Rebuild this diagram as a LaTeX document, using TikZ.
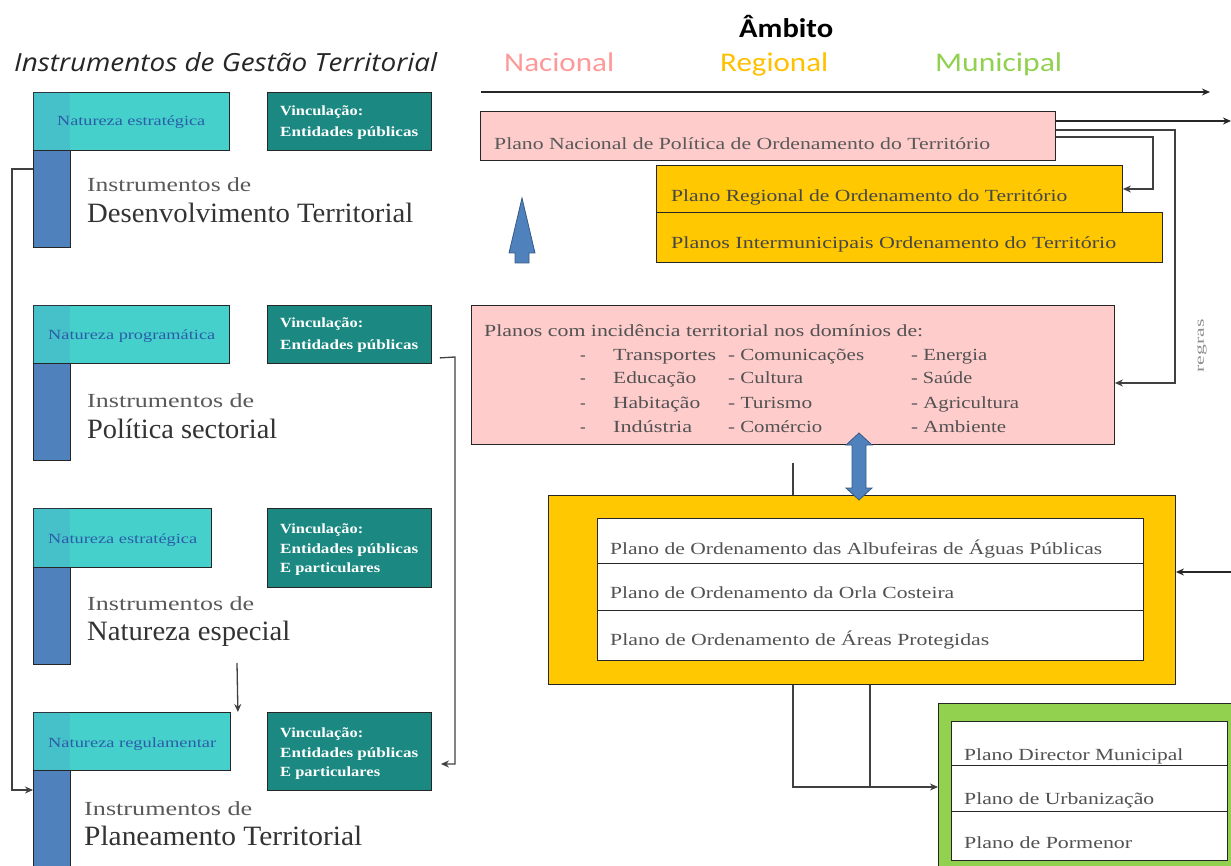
\documentclass[tikz,border=0pt]{standalone}
\usepackage{fontspec}
\usepackage{graphicx}
\setmainfont{Liberation Serif}
\newfontfamily\osans{Open Sans}
\newfontfamily\calib{Carlito}
\usetikzlibrary{arrows.meta,calc}
\definecolor{pinkf}{HTML}{FFCCCC}
\definecolor{goldf}{HTML}{FFC800}
\definecolor{greenf}{HTML}{92D050}
\definecolor{cyanf}{HTML}{46D0CC}
\definecolor{tealf}{HTML}{1B8982}
\definecolor{barf}{HTML}{4F81BD}
\definecolor{cyantxt}{HTML}{2A5CA8}
\definecolor{nacc}{HTML}{FF9999}
\definecolor{regc}{HTML}{FFC000}
\definecolor{munc}{HTML}{92D050}
\newcommand\fitw[2]{\resizebox{#1pt}{\height}{#2}}
\newcommand\fsz[1]{\fontsize{#1}{#1}\selectfont}
\begin{document}
\begin{tikzpicture}[x=1pt,y=-1pt,
 box/.style={draw=black!85, line width=0.9pt, inner sep=0pt, anchor=north west, rectangle},
 barbox/.style={box, fill=barf, minimum width=37pt},
 cyanbox/.style={box, fill=cyanf, minimum height=58pt},
 shade/.style={fill=barf, fill opacity=0.18, draw=none},
 tealbox/.style={box, fill=tealf, minimum width=164pt},
 txt/.style={inner sep=0pt, anchor=base west},
 ctxt/.style={txt, text=cyantxt},
 ttxt/.style={txt, text=white, font=\fsz{14}\bfseries},
 gtxt/.style={txt, text=black!68},
 conn/.style={draw=black!75, line width=1.3pt, -{Stealth[length=8pt,width=7pt]}},
 ln/.style={draw=black!75, line width=1.3pt}]
\useasboundingbox (0,0) rectangle (1231,866);

% header
\node[txt, text=black!85] (hdr) at (14,72) {\osans\itshape\fsz{25}\fitw{423}{Instrumentos de Gestão Territorial}};
\node[txt] (amb) at (739,38) {\calib\bfseries\fsz{27}\fitw{94}{Âmbito}};
\node[txt, text=nacc] (nac) at (504,72) {\calib\fsz{27}\fitw{110}{Nacional}};
\node[txt, text=regc] (reg) at (720,72) {\calib\fsz{27}\fitw{108}{Regional}};
\node[txt, text=munc] (mun) at (935,72) {\calib\fsz{27}\fitw{127}{Municipal}};
\coordinate (ax0) at (481,92);
\coordinate (ax1) at (1210,92);
\draw[conn, draw=black!85] (ax0) -- (ax1);

% group 1
\node[barbox, minimum height=155pt] (b1) at (33,92) {};
\node[cyanbox, minimum width=196pt] (c1) at (33,92) {};
\fill[shade] (33,92) rectangle (70,150);
\node[tealbox, minimum height=58pt] (t1) at (267,92) {};
\node[ctxt] (c1t) at (57,126) {\fsz{14}\fitw{148}{Natureza estratégica}};
\node[ttxt] (t1a) at (280,116) {\fitw{83}{Vinculação:}};
\node[ttxt] (t1b) at (280,137) {\fitw{138}{Entidades públicas}};
\node[txt, text=black!65] (i1a) at (87,192) {\fsz{20}\fitw{164}{Instrumentos de}};
\node[txt, text=black!80] (i1b) at (87,223) {\fsz{28}\fitw{326}{Desenvolvimento Territorial}};

% group 2
\node[barbox, minimum height=155pt] (b2) at (33,305) {};
\node[cyanbox, minimum width=196pt] (c2) at (33,305) {};
\fill[shade] (33,305) rectangle (70,363);
\node[tealbox, minimum height=58pt] (t2) at (267,305) {};
\node[ctxt] (c2t) at (48,340) {\fsz{14}\fitw{167}{Natureza programática}};
\node[ttxt] (t2a) at (280,328) {\fitw{83}{Vinculação:}};
\node[ttxt] (t2b) at (280,350) {\fitw{138}{Entidades públicas}};
\node[txt, text=black!65] (i2a) at (87,407) {\fsz{20}\fitw{167}{Instrumentos de}};
\node[txt, text=black!80] (i2b) at (87,438) {\fsz{28}\fitw{190}{Política sectorial}};

% group 3
\node[barbox, minimum height=156pt] (b3) at (33,508) {};
\node[cyanbox, minimum width=178pt, minimum height=59pt] (c3) at (33,508) {};
\fill[shade] (33,508) rectangle (70,567);
\node[tealbox, minimum height=79pt] (t3) at (267,508) {};
\node[ctxt] (c3t) at (48,543) {\fsz{14}\fitw{149}{Natureza estratégica}};
\node[ttxt] (t3a) at (280,533) {\fitw{83}{Vinculação:}};
\node[ttxt] (t3b) at (280,553) {\fitw{138}{Entidades públicas}};
\node[ttxt] (t3c) at (280,572) {\fitw{100}{E particulares}};
\node[txt, text=black!65] (i3a) at (87,610) {\fsz{20}\fitw{167}{Instrumentos de}};
\node[txt, text=black!80] (i3b) at (87,640) {\fsz{28}\fitw{203}{Natureza especial}};

% group 4
\node[barbox, minimum height=170pt] (b4) at (33,712) {};
\node[cyanbox, minimum width=197pt] (c4) at (33,712) {};
\fill[shade] (33,712) rectangle (70,770);
\node[tealbox, minimum height=78pt] (t4) at (267,712) {};
\node[ctxt] (c4t) at (48,747) {\fsz{14}\fitw{168}{Natureza regulamentar}};
\node[ttxt] (t4a) at (280,737) {\fitw{83}{Vinculação:}};
\node[ttxt] (t4b) at (280,757) {\fitw{138}{Entidades públicas}};
\node[ttxt] (t4c) at (280,776) {\fitw{100}{E particulares}};
\node[txt, text=black!65] (i4a) at (84,815) {\fsz{20}\fitw{168}{Instrumentos de}};
\node[txt, text=black!80] (i4b) at (84,845) {\fsz{28}\fitw{278}{Planeamento Territorial}};

% left connectors
\draw[conn] ($(b1.north west)+(0,77)$) -- (12,169) -- (12,790) -- ($(b4.north west)+(0,78)$);
\draw[conn] ($(t2.south east)+(8,-6)$) -- (455,357) -- (455,764) -- ($(t4.north east)+(9,52)$);
\coordinate (a3) at (237,663);
\draw[conn] (a3) -- ($(c4.north east)+(7,0)$);

% right: national / regional
\node[box, fill=pinkf, minimum width=575pt, minimum height=49pt] (pn) at (480,111) {};
\node[gtxt, text=black!65] (pnt) at (494,150) {\fsz{17}\fitw{496}{Plano Nacional de Política de Ordenamento do Território}};
\node[box, fill=goldf, minimum width=466pt, minimum height=47pt] (g1) at (656,165) {};
\node[txt, text=black!72] (g1t) at (671,202) {\fsz{17}\fitw{396}{Plano Regional de Ordenamento do Território}};
\node[box, fill=goldf, minimum width=506pt, minimum height=50pt] (g2) at (656,212) {};
\node[txt, text=black!72] (g2t) at (671,249) {\fsz{17}\fitw{445}{Planos Intermunicipais Ordenamento do Território}};

\filldraw[fill=barf, draw=barf!70!black, line width=0.8pt] (522,198) -- (535,253) -- (529,253) -- (529,263) -- (515,263) -- (515,253) -- (509,253) -- cycle;

% sectoral box
\node[box, fill=pinkf, minimum width=643pt, minimum height=139pt] (pk) at (471,305) {};
\node[gtxt] (pkt) at (484,337) {\fsz{17}\fitw{439}{Planos com incidência territorial nos domínios de:}};
\node[gtxt] (d1) at (580,360) {\fsz{17}-};
\node[gtxt] (d2) at (580,384) {\fsz{17}-};
\node[gtxt] (d3) at (580,408) {\fsz{17}-};
\node[gtxt] (d4) at (580,432) {\fsz{17}-};
\node[gtxt] (s11) at (613,360) {\fsz{17}\fitw{103}{Transportes}};
\node[gtxt] (s12) at (613,384) {\fsz{17}\fitw{83}{Educação}};
\node[gtxt] (s13) at (613,408) {\fsz{17}\fitw{87}{Habitação}};
\node[gtxt] (s14) at (613,432) {\fsz{17}\fitw{79}{Indústria}};
\node[gtxt] (s21) at (728,360) {\fsz{17}\fitw{136}{- Comunicações}};
\node[gtxt] (s22) at (728,384) {\fsz{17}\fitw{75}{- Cultura}};
\node[gtxt] (s23) at (728,408) {\fsz{17}\fitw{84}{- Turismo}};
\node[gtxt] (s24) at (728,432) {\fsz{17}\fitw{94}{- Comércio}};
\node[gtxt] (s31) at (911,360) {\fsz{17}\fitw{76}{- Energia}};
\node[gtxt] (s32) at (911,384) {\fsz{17}\fitw{61}{- Saúde}};
\node[gtxt] (s33) at (911,408) {\fsz{17}\fitw{108}{- Agricultura}};
\node[gtxt] (s34) at (911,432) {\fsz{17}\fitw{95}{- Ambiente}};

\node[rotate=90, inner sep=0pt, text=black!45] (rg) at (1202,346) {\fsz{13}\fitw{53}{regras}};

% special plans box
\node[box, fill=goldf, minimum width=627pt, minimum height=189pt] (gb) at (548,495) {};
\node[box, fill=white, minimum width=546pt, minimum height=45pt] (w1) at (597,518) {};
\node[box, fill=white, minimum width=546pt, minimum height=47pt] (w2) at (597,563) {};
\node[box, fill=white, minimum width=546pt, minimum height=50pt] (w3) at (597,610) {};
\node[gtxt] (w1t) at (610,554) {\fsz{17}\fitw{492}{Plano de Ordenamento das Albufeiras de Águas Públicas}};
\node[gtxt] (w2t) at (610,598) {\fsz{17}\fitw{344}{Plano de Ordenamento da Orla Costeira}};
\node[gtxt] (w3t) at (610,645) {\fsz{17}\fitw{379}{Plano de Ordenamento de Áreas Protegidas}};

\filldraw[fill=barf, draw=barf!70!black, line width=0.8pt] (859,433) -- (872,445) -- (866,445) -- (866,488) -- (872,488) -- (859,500) -- (846,488) -- (852,488) -- (852,445) -- (846,445) -- cycle;

% municipal box
\node[box, fill=greenf, minimum width=310pt, minimum height=175pt] (gm) at (938,703) {};
\node[box, fill=white, minimum width=276pt, minimum height=44pt] (m1) at (951,721) {};
\node[box, fill=white, minimum width=276pt, minimum height=46pt] (m2) at (951,765) {};
\node[box, fill=white, minimum width=276pt, minimum height=49pt] (m3) at (951,811) {};
\node[gtxt] (m1t) at (964,760) {\fsz{17}\fitw{219}{Plano Director Municipal}};
\node[gtxt] (m2t) at (964,804) {\fsz{17}\fitw{190}{Plano de Urbanização}};
\node[gtxt] (m3t) at (964,848) {\fsz{17}\fitw{168}{Plano de Pormenor}};

% right connectors
\coordinate (e1) at (1231,121);
\draw[conn, draw=black!85] ($(pn.north east)+(0,10)$) -- (e1);
\draw[conn] ($(pn.north east)+(0,19)$) -- (1175,130) -- (1175,383) -- ($(pk.north east)+(0,78)$);
\draw[conn] ($(pn.north east)+(0,26)$) -- (1153,137) -- (1153,189) -- ($(g1.north east)+(0,24)$);
\coordinate (e2) at (1231,572);
\draw[conn, draw=black!85] (e2) -- ($(gb.north east)+(0,77)$);
\coordinate (e3) at (793,463);
\draw[ln] (e3) -- ($(gb.north west)+(245,0)$);
\draw[ln] ($(gb.south west)+(245,0)$) -- (793,787) -- (870,787);
\draw[conn] ($(gb.south west)+(322,0)$) -- (870,787) -- ($(gm.north west)+(0,84)$);
\end{tikzpicture}
\end{document}
